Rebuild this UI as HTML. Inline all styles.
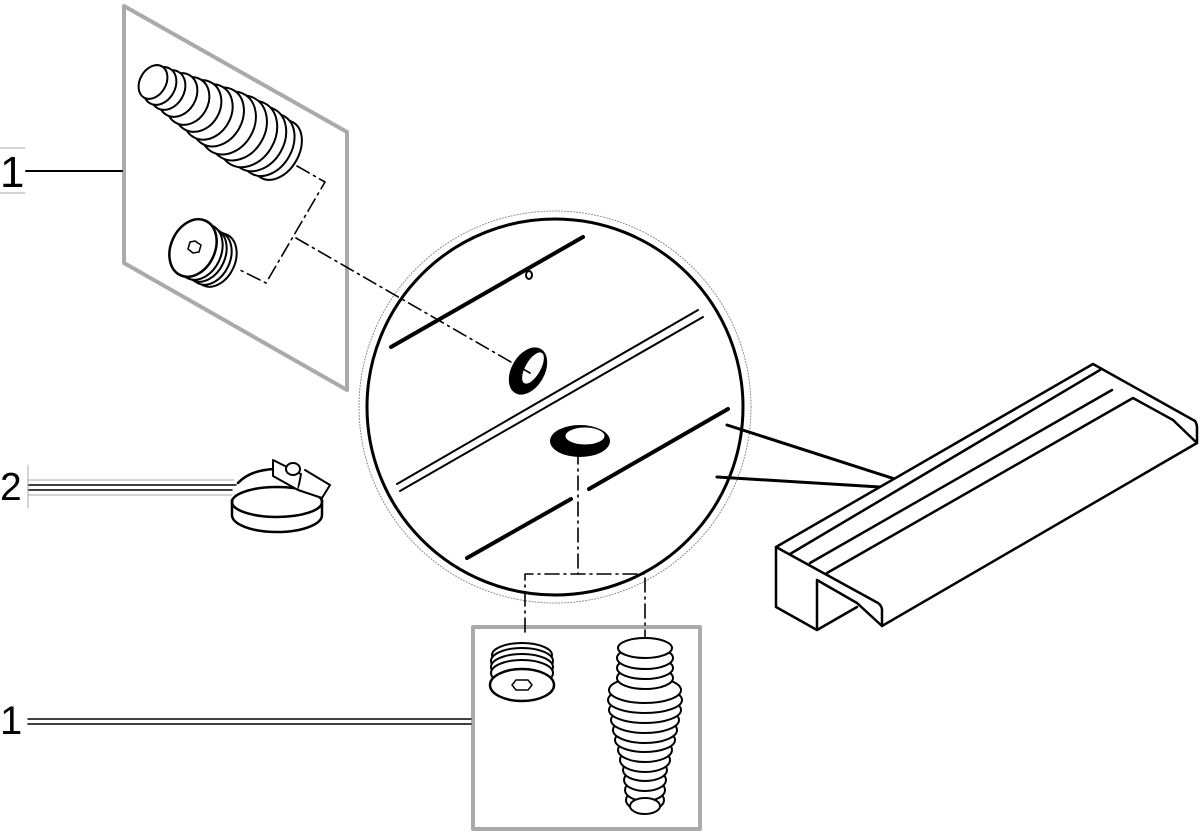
<!DOCTYPE html>
<html><head><meta charset="utf-8"><style>
html,body{margin:0;padding:0;background:#fff;width:1200px;height:832px;overflow:hidden}
svg{display:block}
text{font-family:"Liberation Sans",sans-serif;fill:#000}
</style></head><body>
<svg width="1200" height="832" viewBox="0 0 1200 832" xmlns="http://www.w3.org/2000/svg">
<g fill="none" stroke-linecap="round" stroke-linejoin="round">
<!-- gray frames -->
<polygon points="124,6 347,132 347,390 124,263" stroke="#aaa" stroke-width="4"/>
<rect x="473" y="627" width="227" height="202" stroke="#aaa" stroke-width="4"/>

<!-- labels -->
<line x1="26" y1="171" x2="122" y2="171" stroke="#000" stroke-width="2"/>
<line x1="0" y1="148" x2="25" y2="148" stroke="#aaa" stroke-width="1"/>
<line x1="0" y1="193" x2="25" y2="193" stroke="#aaa" stroke-width="1"/>
<line x1="28" y1="480" x2="234" y2="480" stroke="#aaa" stroke-width="1"/>
<line x1="28" y1="485" x2="236" y2="485" stroke="#000" stroke-width="1.5"/>
<line x1="28" y1="490" x2="232" y2="490" stroke="#000" stroke-width="1.5"/>
<line x1="28" y1="495" x2="232" y2="495" stroke="#aaa" stroke-width="1"/>
<line x1="28" y1="465" x2="28" y2="508" stroke="#aaa" stroke-width="1"/>
<line x1="28" y1="719" x2="471" y2="719" stroke="#000" stroke-width="1.5"/>
<line x1="28" y1="724" x2="471" y2="724" stroke="#000" stroke-width="1.5"/>

<!-- big circle -->
<circle cx="555" cy="407" r="196" stroke="#888" stroke-width="1" stroke-dasharray="1,2"/>
<circle cx="555" cy="407" r="188" stroke="#000" stroke-width="3"/>
<line x1="391" y1="347" x2="583" y2="237" stroke="#000" stroke-width="4"/>
<line x1="397" y1="484" x2="698" y2="310" stroke="#000" stroke-width="2"/>
<line x1="400" y1="491" x2="703" y2="317" stroke="#000" stroke-width="2"/>
<line x1="467" y1="558" x2="571" y2="499" stroke="#000" stroke-width="4"/>
<line x1="589" y1="489" x2="728" y2="409" stroke="#000" stroke-width="4"/>
<ellipse cx="529" cy="275" rx="3" ry="4" stroke="#000" stroke-width="2"/>
<ellipse cx="528" cy="371" rx="16" ry="25" transform="rotate(30 528 371)" fill="#000" stroke="#000"/>
<ellipse cx="533" cy="368" rx="8" ry="18" transform="rotate(30 533 368)" fill="#fff" stroke="#000" stroke-width="1"/>
<ellipse cx="580" cy="441" rx="30" ry="16" fill="#000"/>
<ellipse cx="585" cy="436" rx="20" ry="9" fill="#fff" stroke="#000" stroke-width="1"/>

<!-- leader to spout -->
<line x1="727" y1="425" x2="895" y2="479" stroke="#000" stroke-width="3"/>
<line x1="717" y1="477" x2="880" y2="487" stroke="#000" stroke-width="3"/>

<!-- spout -->
<g stroke="#000" stroke-width="2.5" fill="#fff">
<path d="M776,547 L1093,364 L1195,421 Q1197,424 1197,428 L1197,443 L882,626 L882,609 Q881,605 878,603 L776,547 Z"/>
<path d="M776,547 L776,607 L817,630 L857,607 M817,630 L817,580 L857,603 L882,626" fill="none"/>
<path d="M790,554 L1100,370 M810,563 L1112,390 M827,573 L1133,398 L1173,420 L1197,443" fill="none"/>
</g>

<!-- dash-dot leaders -->
<g stroke="#000" stroke-width="1.6" stroke-dasharray="14,5,2,5">
<polyline points="297,166 325,182 266,283 240,270"/>
<line x1="296" y1="238" x2="530" y2="373"/>
<line x1="578" y1="450" x2="578" y2="574"/>
<polyline points="525,632 525,574 645,574 645,642"/>
</g>

<!-- top hose -->
<g stroke="#000" stroke-width="2" fill="#fff">
<ellipse cx="277" cy="150" rx="22" ry="32" transform="rotate(30 277 150)"/>
<ellipse cx="268" cy="145" rx="24" ry="33" transform="rotate(30 268 145)"/>
<ellipse cx="258" cy="139" rx="26" ry="34" transform="rotate(30 258 139)"/>
<ellipse cx="248" cy="134" rx="27" ry="35" transform="rotate(30 248 134)"/>
<ellipse cx="238" cy="128" rx="27" ry="34" transform="rotate(30 238 128)"/>
<ellipse cx="228" cy="123" rx="26" ry="33" transform="rotate(30 228 123)"/>
<ellipse cx="218" cy="117" rx="24" ry="31" transform="rotate(30 218 117)"/>
<ellipse cx="208" cy="112" rx="23" ry="29" transform="rotate(30 208 112)"/>
<ellipse cx="198" cy="106" rx="22" ry="27" transform="rotate(30 198 106)"/>
<ellipse cx="188" cy="101" rx="20" ry="25" transform="rotate(30 188 101)"/>
<ellipse cx="178" cy="95" rx="18" ry="23" transform="rotate(30 178 95)"/>
<ellipse cx="168" cy="90" rx="16" ry="21" transform="rotate(30 168 90)"/>
<ellipse cx="160" cy="86" rx="15" ry="20" transform="rotate(30 160 86)"/>
<ellipse cx="153" cy="82" rx="13" ry="18" transform="rotate(30 153 82)"/>
</g>

<!-- top plug -->
<g stroke="#000" stroke-width="2" fill="#fff">
<ellipse cx="215" cy="260" rx="20" ry="28" transform="rotate(25 215 260)"/>
<ellipse cx="210" cy="258" rx="20" ry="28" transform="rotate(25 210 258)"/>
<ellipse cx="205" cy="255" rx="20" ry="28" transform="rotate(25 205 255)"/>
<ellipse cx="200" cy="252" rx="21" ry="29" transform="rotate(25 200 252)"/>
<ellipse cx="193" cy="248" rx="22" ry="30" transform="rotate(25 193 248)" stroke-width="2.5"/>
<polygon points="195,241 201,245 199,252 193,253 188,249 190,242" stroke-width="1.5"/>
</g>

<!-- bottom plug -->
<g stroke="#000" stroke-width="2" fill="#fff">
<ellipse cx="522" cy="655" rx="30" ry="12"/>
<ellipse cx="522" cy="661" rx="31" ry="13"/>
<ellipse cx="522" cy="667" rx="31" ry="13"/>
<ellipse cx="522" cy="673" rx="31" ry="13"/>
<ellipse cx="522" cy="685" rx="32" ry="16" stroke-width="2.5"/>
<polygon points="516,680 528,680 532,685 528,690 516,690 512,685" stroke-width="1.5"/>
</g>

<!-- bottom hose -->
<g stroke="#000" stroke-width="2" fill="#fff">
<ellipse cx="645" cy="800" rx="19" ry="11"/>
<ellipse cx="645" cy="790" rx="20" ry="11"/>
<ellipse cx="645" cy="780" rx="21" ry="11"/>
<ellipse cx="645" cy="770" rx="22" ry="11"/>
<ellipse cx="645" cy="760" rx="25" ry="12"/>
<ellipse cx="645" cy="750" rx="27" ry="12"/>
<ellipse cx="645" cy="740" rx="30" ry="12"/>
<ellipse cx="645" cy="730" rx="32" ry="13"/>
<ellipse cx="645" cy="720" rx="34" ry="13"/>
<ellipse cx="645" cy="710" rx="36" ry="13"/>
<ellipse cx="645" cy="700" rx="37" ry="13"/>
<ellipse cx="645" cy="690" rx="36" ry="13"/>
<ellipse cx="645" cy="678" rx="28" ry="11"/>
<ellipse cx="645" cy="668" rx="28" ry="11"/>
<ellipse cx="645" cy="658" rx="28" ry="11"/>
<ellipse cx="645" cy="648" rx="27" ry="10"/>
<ellipse cx="645" cy="806" rx="15" ry="8"/>
</g>

<!-- clamp (open band) -->
<g stroke="#000" stroke-width="2.5" fill="none">
<path d="M232,500 L232,515 A45,17 0 0 0 322,515 L322,500"/>
<ellipse cx="277" cy="502" rx="45" ry="15"/>
<path d="M238,483 Q250,470 275,469"/>
<path d="M273,460 L273,476 L298,490 L301,474 Z" fill="#fff" stroke-width="2"/>
<path d="M298,490 L322,498 L330,485 L305,470" fill="#fff" stroke-width="2"/>
<ellipse cx="293" cy="469" rx="7" ry="6" fill="#fff" stroke-width="2"/>
</g>
</g>
<text x="0" y="187" font-size="44">1</text>
<text x="0" y="500" font-size="39">2</text>
<text x="0" y="734" font-size="40">1</text>
</svg>
</body></html>
